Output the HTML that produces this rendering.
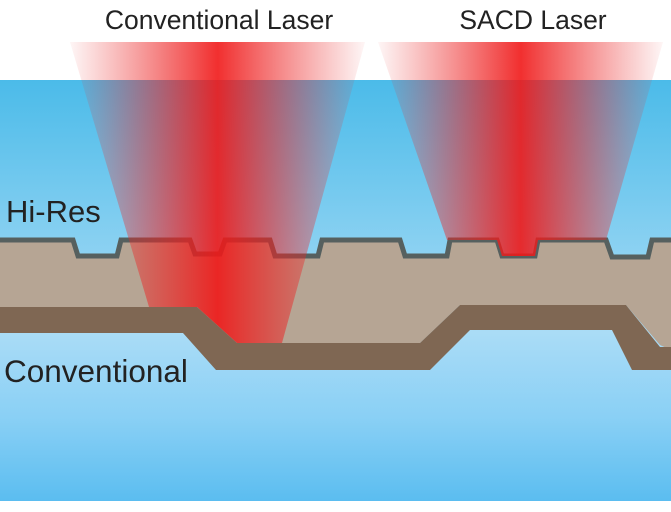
<!DOCTYPE html>
<html><head><meta charset="utf-8"><style>html,body{margin:0;padding:0;background:#fff}svg{display:block}</style></head><body>
<svg width="671" height="512" viewBox="0 0 671 512" xmlns="http://www.w3.org/2000/svg" font-family="Liberation Sans, sans-serif">
<defs>
<linearGradient id="bg" x1="0" y1="0" x2="0" y2="1">
<stop offset="0" stop-color="#4bbbe9"/>
<stop offset="0.6" stop-color="#aadcf6"/>
<stop offset="0.8" stop-color="#8ad0f5"/>
<stop offset="1" stop-color="#5bbdf0"/>
</linearGradient>
<linearGradient id="r1" x1="70" y1="0" x2="365" y2="0" gradientUnits="userSpaceOnUse">
<stop offset="0" stop-color="#e83030" stop-opacity="0.05"/>
<stop offset="0.5" stop-color="#f01818" stop-opacity="1"/>
<stop offset="1" stop-color="#e83030" stop-opacity="0.05"/>
</linearGradient>
<linearGradient id="r2" x1="378" y1="0" x2="663" y2="0" gradientUnits="userSpaceOnUse">
<stop offset="0" stop-color="#e83030" stop-opacity="0.05"/>
<stop offset="0.5" stop-color="#f01818" stop-opacity="1"/>
<stop offset="1" stop-color="#e83030" stop-opacity="0.05"/>
</linearGradient>
</defs>
<rect x="0" y="80" width="671" height="421" fill="url(#bg)"/>
<path d="M0,240 L73,240 L78,256 L117,256 L121,240 L190,240 L195,254 L220,254 L225,240 L270,240 L275,256 L318,256 L322,240 L400,240 L405,256 L447,256 L450,240 L497,240 L502,256 L535,256 L538,240 L606,240 L612,257 L648,257 L652,240 L671,240 L671,350 L660,345 L626,305 L460,305 L420,343 L237,343 L197,307 L0,307 Z" fill="#b6a594"/>
<path d="M0,240 L73,240 L78,256 L117,256 L121,240 L190,240 L195,254 L220,254 L225,240 L270,240 L275,256 L318,256 L322,240 L400,240 L405,256 L447,256 L450,240 L497,240 L502,256 L535,256 L538,240 L606,240 L612,257 L648,257 L652,240 L671,240" fill="none" stroke="#56605f" stroke-width="5" stroke-linejoin="miter"/>
<polygon points="70,42 365,42 282,343 237,343 197,307 149,307" fill="url(#r1)" opacity="0.9"/>
<polygon points="378,42 663,42 606,240 538,240 535,256 502,256 497,240 447,240" fill="url(#r2)" opacity="0.9"/>
<path d="M0,307 L197,307 L237,343 L420,343 L460,305 L626,305 L660,347 L671,347 L671,370 L632,370 L612,330 L470,330 L430,370 L216,370 L183,333 L0,333 Z" fill="#7f6753"/>
<g fill="#222">
<text x="219" y="29" font-size="26.5" text-anchor="middle">Conventional Laser</text>
<text x="533" y="29" font-size="26.5" text-anchor="middle">SACD Laser</text>
<text x="6" y="222" font-size="31">Hi-Res</text>
<text x="4" y="382" font-size="31.5">Conventional</text>
</g>
</svg>
</body></html>
